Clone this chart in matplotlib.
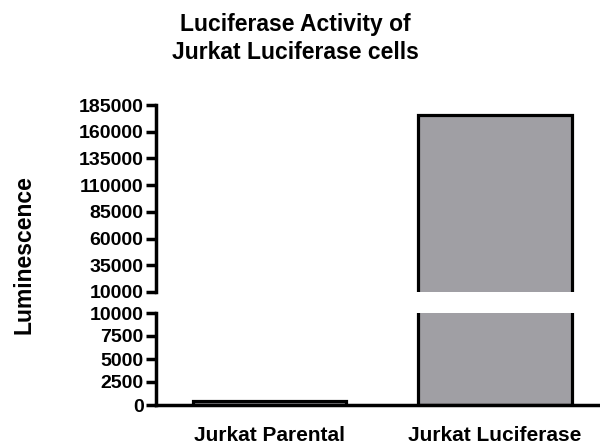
import matplotlib
matplotlib.use("Agg")
import matplotlib.pyplot as plt

plt.rcParams['font.family'] = ['Liberation Sans', 'DejaVu Sans']
plt.rcParams['font.weight'] = 'bold'

groups = ["Jurkat Parental", "Jurkat Luciferase"]
luminescence = [400, 175500]
top_ticks = [10000, 35000, 60000, 85000, 110000, 135000, 160000, 185000]
bottom_ticks = [0, 2500, 5000, 7500, 10000]

W, H = 600, 445
fig = plt.figure(figsize=(W / 100, H / 100), dpi=100)

def px_axes(left, top, right, bottom):
    # pixel box (from top-left) -> figure fraction
    return fig.add_axes([left / W, 1 - bottom / H, (right - left) / W, (bottom - top) / H])

ax_top = px_axes(156, 105, 600, 292)
ax_bot = px_axes(156, 313, 600, 405)

bar_grey = '#a09fa4'
x = [0, 1]
for ax in (ax_top, ax_bot):
    ax.bar(x, luminescence, width=0.68, color=bar_grey, edgecolor='black', linewidth=2.3)
    ax.set_xlim(-0.503, 1.466)
    ax.spines['top'].set_visible(False)
    ax.spines['right'].set_visible(False)
    ax.spines['left'].set_linewidth(2.5)
    ax.spines['bottom'].set_linewidth(2.5)
    ax.tick_params(axis='y', direction='out', length=7, width=2.5, pad=2, labelsize=14)
    ax.tick_params(axis='y', which='minor', direction='inout', length=14, width=2.5)
    ax.set_yticks([10000], minor=True)
    ax.set_yticklabels([], minor=True)

ax_top.set_ylim(10000, 185000)
ax_top.set_yticks(top_ticks)
ax_top.spines['bottom'].set_visible(False)
ax_top.set_xticks([])

ax_bot.set_ylim(0, 10000)
ax_bot.set_yticks(bottom_ticks)
ax_bot.set_xticks(x)
ax_bot.set_xticklabels(groups, fontsize=15)
ax_bot.tick_params(axis='x', length=0, pad=15)

fig.text(0.493, 0.914, "Luciferase Activity of\nJurkat Luciferase cells",
         ha='center', va='center', fontsize=16.5, fontweight='bold', linespacing=1.3)
fig.text(0.04, 0.427, "Luminescence", rotation=90, ha='center', va='center',
         fontsize=16.5, fontweight='bold')

fig.savefig("out.png", dpi=100)
